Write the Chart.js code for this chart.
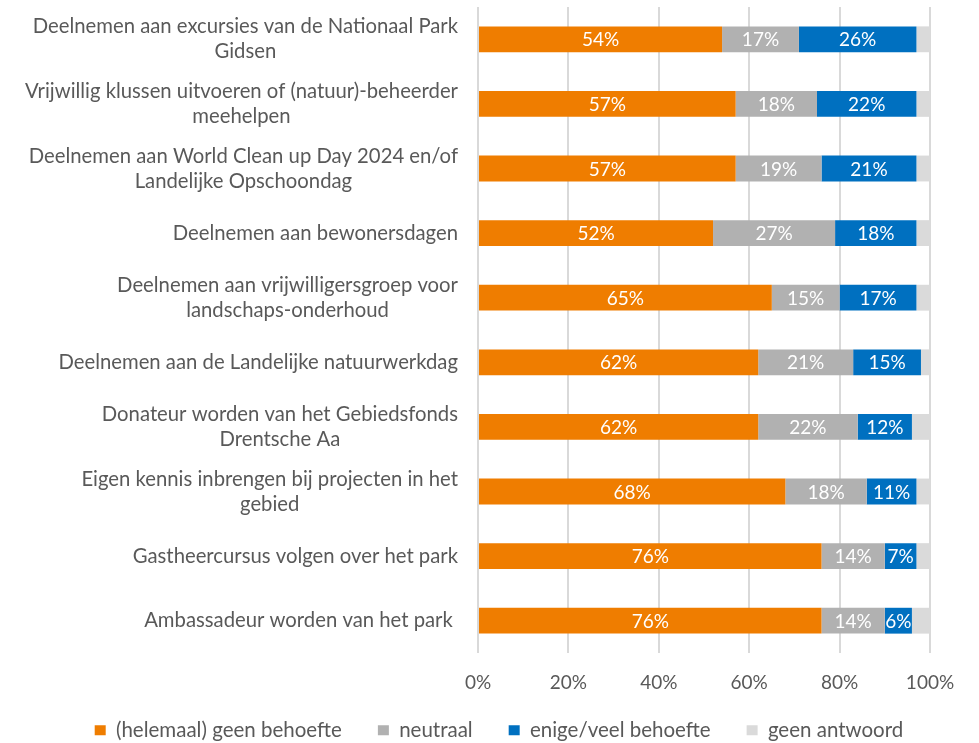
<!DOCTYPE html>
<html>
<head>
<meta charset="utf-8">
<script src="https://cdn.jsdelivr.net/npm/chart.js@4"></script>
<style>
  html, body { margin: 0; padding: 0; background: #fff; }
  #wrap { width: 979px; height: 743px; position: relative; }
</style>
</head>
<body>
<div id="wrap"><canvas id="chart"></canvas></div>
<script>
// Categorieën (regels zoals in het origineel afgebroken)
const categories = [
    ['Deelnemen aan excursies van de Nationaal Park', 'Gidsen'],
    ['Vrijwillig klussen uitvoeren of (natuur)-beheerder', 'meehelpen'],
    ['Deelnemen aan World Clean up Day 2024 en/of', 'Landelijke Opschoondag'],
    ['Deelnemen aan bewonersdagen'],
    ['Deelnemen aan vrijwilligersgroep voor', 'landschaps-onderhoud'],
    ['Deelnemen aan de Landelijke natuurwerkdag'],
    ['Donateur worden van het Gebiedsfonds', 'Drentsche Aa'],
    ['Eigen kennis inbrengen bij projecten in het', 'gebied'],
    ['Gastheercursus volgen over het park'],
    ['Ambassadeur worden van het park ']
];

const geenBehoefte = [54, 57, 57, 52, 65, 62, 62, 68, 76, 76];
const neutraal     = [17, 18, 19, 27, 15, 21, 22, 18, 14, 14];
const veelBehoefte = [26, 22, 21, 18, 17, 15, 12, 11, 7, 6];
const geenAntwoord = [3, 3, 3, 3, 3, 2, 4, 3, 3, 4];

const seriesNames = ['(helemaal) geen behoefte', 'neutraal', 'enige/veel behoefte', 'geen antwoord'];
const seriesColors = ['#ef7d00', '#b1b1b1', '#0070c0', '#dadada'];
const xTicks = [0, 20, 40, 60, 80, 100];

const FONT = 'Lato';
const TEXT_COLOR = '#595959';

// Eigen plugin: percentages in de balken
const barLabels = {
    id: 'barLabels',
    afterDatasetsDraw(chart) {
        const ctx = chart.ctx;
        ctx.save();
        ctx.font = '19px ' + FONT;
        ctx.fillStyle = '#ffffff';
        ctx.textAlign = 'center';
        ctx.textBaseline = 'middle';
        chart.data.datasets.forEach((ds, i) => {
            if (i > 2) return;
            chart.getDatasetMeta(i).data.forEach((bar, j) => {
                const p = bar.getCenterPoint();
                ctx.fillText(ds.data[j] + '%', p.x, p.y + 1);
            });
        });
        ctx.restore();
    }
};

// Eigen plugin: categorie-labels, rechts uitgelijnd blok met gecentreerde regels
const categoryLabels = {
    id: 'categoryLabels',
    afterDraw(chart) {
        const ctx = chart.ctx;
        const yScale = chart.scales.y;
        const right = chart.chartArea.left - 20;
        const lineH = 25;
        ctx.save();
        ctx.font = '20.3px ' + FONT;
        ctx.fillStyle = TEXT_COLOR;
        ctx.textAlign = 'center';
        ctx.textBaseline = 'middle';
        categories.forEach((lines, i) => {
            const cy = yScale.getPixelForValue(i);
            const w = Math.max(...lines.map(l => ctx.measureText(l).width));
            const cx = right - w / 2;
            const y0 = cy - (lines.length - 1) * lineH / 2;
            lines.forEach((l, k) => ctx.fillText(l, cx, y0 + k * lineH));
        });
        ctx.restore();
    }
};

// legenda iets omhoog schuiven (de padding van de legenda werkt ook verticaal)
const legendShift = {
    id: 'legendShift',
    afterLayout(chart) {
        if (!chart.legend) return;
        chart.legend.top -= 6;
        chart.legend.bottom -= 6;
    }
};

const ctx = document.getElementById('chart');
new Chart(ctx, {
    type: 'bar',
    data: {
        labels: categories,
        datasets: [geenBehoefte, neutraal, veelBehoefte, geenAntwoord].map((d, i) => ({
            label: seriesNames[i],
            data: d,
            backgroundColor: seriesColors[i],
            borderWidth: 0,
            barPercentage: 0.8,
            categoryPercentage: 0.5,
            yAxisID: 'y'
        }))
    },
    options: {
        indexAxis: 'y',
        responsive: true,
        maintainAspectRatio: false,
        animation: false,
        layout: {
            padding: { top: 7, right: 0, left: 19, bottom: -13.5 }
        },
        plugins: {
            legend: {
                position: 'bottom',
                labels: {
                    boxWidth: 11,
                    boxHeight: 10,
                    padding: 36,
                    color: TEXT_COLOR,
                    font: { family: FONT, size: 20.5 }
                }
            },
            tooltip: { enabled: false }
        },
        scales: {
            x: {
                stacked: true,
                min: 0,
                max: 100,
                afterBuildTicks: (scale) => {
                    scale.ticks = xTicks.map(v => ({ value: v }));
                },
                afterFit: (scale) => { scale.height = 37; },
                ticks: {
                    color: TEXT_COLOR,
                    font: { family: FONT, size: 19 },
                    padding: 18,
                    callback: (v) => v + '%'
                },
                grid: {
                    color: '#d9d9d9',
                    lineWidth: 2,
                    drawTicks: false
                },
                border: { display: false }
            },
            y: {
                stacked: true,
                afterFit: (scale) => { scale.width = 459; },
                ticks: { display: false },
                grid: { display: false },
                border: { display: false }
            },
            // lege as rechts: houdt ruimte vrij naast het plotgebied
            spacer: {
                type: 'linear',
                position: 'right',
                afterFit: (scale) => { scale.width = 49; },
                ticks: { display: false },
                grid: { display: false },
                border: { display: false }
            }
        }
    },
    plugins: [barLabels, categoryLabels, legendShift]
});
</script>
</body>
</html>
